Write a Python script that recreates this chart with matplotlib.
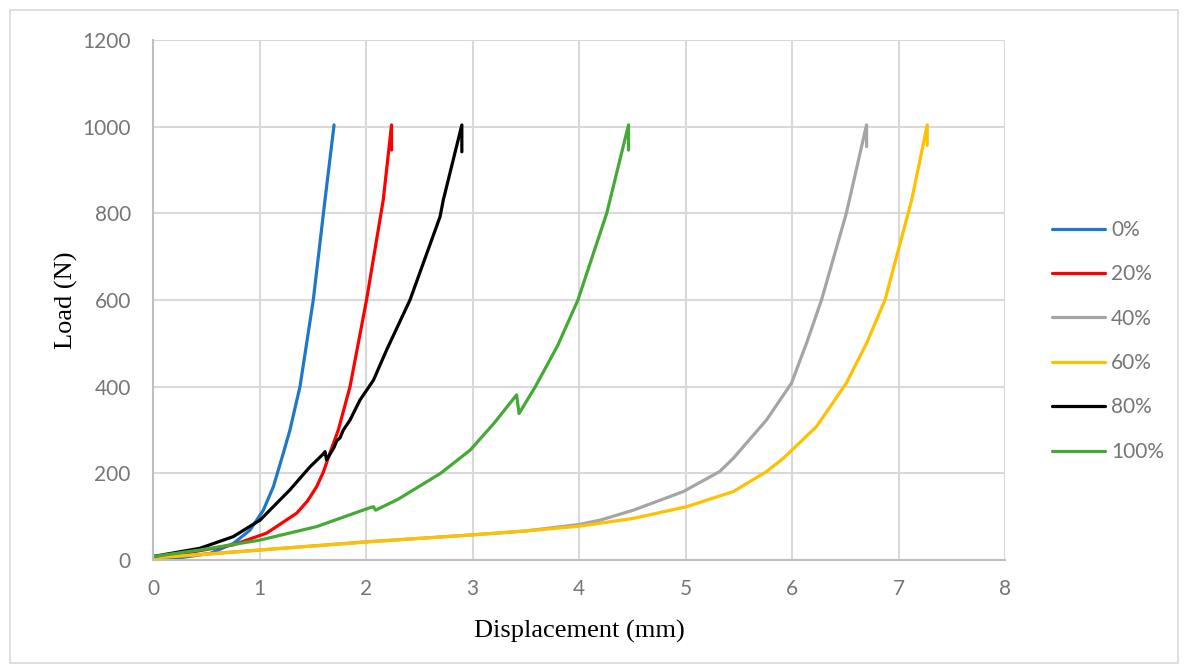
import matplotlib.pyplot as plt
from matplotlib.patches import Rectangle

# Load-displacement curves
labels = ["0%", "20%", "40%", "60%", "80%", "100%"]
colors = ["#1F77C8", "#FF0000", "#A5A5A5", "#FFC000", "#000000", "#44AA35"]

x_0 = [0, 0.16, 0.535, 0.754, 0.911, 1.036, 1.13, 1.223, 1.286, 1.38, 1.505, 1.615, 1.70]
y_0 = [0, 2, 15, 38, 69, 115, 169, 246, 300, 400, 600, 831, 1004]

x_20 = [0, 0.285, 0.754, 1.067, 1.349, 1.45, 1.536, 1.60, 1.66, 1.74, 1.85, 2.005, 2.162, 2.24, 2.24]
y_20 = [5, 15, 35, 62, 108, 136, 169, 203, 246, 300, 400, 600, 831, 1004, 946]

x_40 = [0, 0.5, 1.0, 2.0, 3.0, 3.5, 4.0, 4.2, 4.51, 4.98, 5.32, 5.45, 5.76, 5.995, 6.136, 6.277, 6.51, 6.70, 6.70]
y_40 = [5, 14, 23, 42, 58, 67, 82, 92, 115, 158, 204, 235, 323, 408, 500, 600, 800, 1004, 954]

x_60 = [0, 0.5, 1.0, 2.04, 3.0, 3.5, 4.0, 4.2, 4.51, 5.01, 5.45, 5.76, 5.92, 6.23, 6.51, 6.70, 6.873, 7.124, 7.27, 7.27]
y_60 = [5, 13, 23, 42, 58, 67, 78, 85, 96, 123, 158, 204, 235, 308, 408, 500, 600, 831, 1004, 957]

x_80 = [0, 0.44, 0.754, 1.005, 1.286, 1.474, 1.60, 1.615, 1.63, 1.70, 1.725, 1.756, 1.787,
        1.85, 1.943, 2.07, 2.194, 2.413, 2.695, 2.726, 2.90, 2.90]
y_80 = [8, 27, 54, 92, 162, 215, 245, 250, 231, 260, 275, 282, 300,
        323, 369, 415, 485, 600, 792, 831, 1004, 942]

x_100 = [0, 0.44, 1.005, 1.536, 2.04, 2.07, 2.09, 2.3, 2.70, 2.98, 3.2, 3.414, 3.437, 3.59, 3.80,
         3.99, 4.26, 4.465, 4.465]
y_100 = [8, 23, 46, 77, 121, 123, 115, 140, 200, 254, 315, 381, 338, 400, 495,
         600, 800, 1004, 946]

xs = [x_0, x_20, x_40, x_60, x_80, x_100]
ys = [y_0, y_20, y_40, y_60, y_80, y_100]

fig = plt.figure(figsize=(11.84, 6.69), dpi=100)
ax = fig.add_axes([153 / 1184, 109 / 669, 852 / 1184, 520 / 669])

for x, y, c, lab in zip(xs, ys, colors, labels):
    ax.plot(x, y, color=c, linewidth=2.3, label=lab,
            solid_capstyle='round', solid_joinstyle='round')

ax.set_xlim(0, 8)
ax.set_ylim(0, 1200)
ax.set_xticks(range(0, 9))
ax.set_yticks(range(0, 1201, 200))
ax.grid(True, color='#D9D9D9', linewidth=1.5)
ax.set_axisbelow(True)
for s in ['top', 'right']:
    ax.spines[s].set_visible(False)
for s in ['left', 'bottom']:
    ax.spines[s].set_color('#BFBFBF')
    ax.spines[s].set_linewidth(1.5)
ax.tick_params(length=0, labelsize=15, labelcolor='#767676')
ax.tick_params(axis='x', pad=14)
ax.tick_params(axis='y', pad=16)
for t in ax.get_xticklabels() + ax.get_yticklabels():
    t.set_fontfamily('Lato')

ax.set_xlabel('Displacement (mm)', fontsize=19, family='Liberation Serif', labelpad=15)
ax.set_ylabel('Load (N)', fontsize=19, family='Liberation Serif', labelpad=3)

leg = ax.legend(loc='upper left', bbox_to_anchor=(1.033, 0.69), frameon=False,
                prop={'family': 'Lato', 'size': 15}, labelspacing=1.17,
                handlelength=2.55, handletextpad=0.3)
for t in leg.get_texts():
    t.set_color('#767676')

fig.patches.append(Rectangle((10 / 1184, 6 / 669), 1168 / 1184, 653 / 669,
                             transform=fig.transFigure, fill=False,
                             edgecolor='#D9D9D9', linewidth=1.2))

fig.savefig('out.png', dpi=100)
